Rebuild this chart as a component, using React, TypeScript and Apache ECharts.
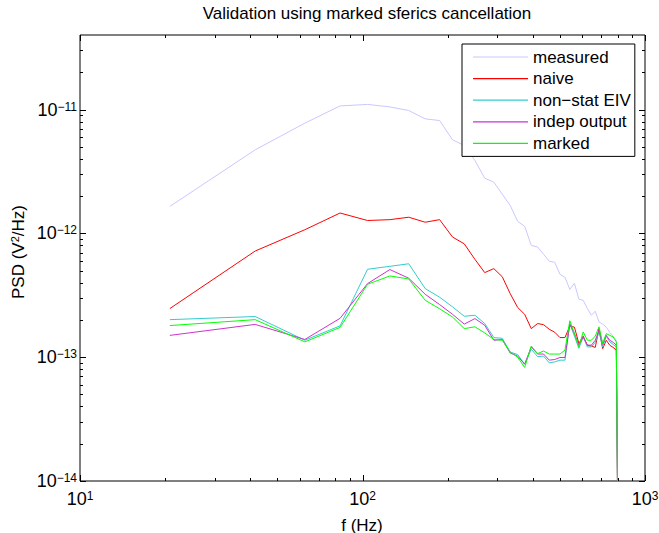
import React, { useEffect, useRef } from 'react';
import * as echarts from 'echarts';

const FONT = '"Liberation Sans", Arial, Helvetica, sans-serif';

const titleText = 'Validation using marked sferics cancellation';
const xName = 'f (Hz)';

const freqs = [20.8, 41.7, 62.5, 83.3, 104.2, 125, 145.8, 166.7, 187.5, 208.3, 229.2, 250, 270.8, 291.7, 312.5, 333.3, 354.2, 375, 395.8, 416.7, 437.5, 458.3, 479.2, 500, 520.8, 541.7, 562.5, 583.3, 604.2, 625, 645.8, 666.7, 687.5, 708.3, 729.2, 750, 770.8, 791.7, 812.5];

const measured = [1.65e-12, 4.73e-12, 7.76e-12, 1.07e-11, 1.10e-11, 1.05e-11, 9.82e-12, 8.41e-12, 8.15e-12, 5.70e-12, 5.13e-12, 3.88e-12, 2.79e-12, 2.59e-12, 2.07e-12, 1.68e-12, 1.25e-12, 1.14e-12, 8.0e-13, 7.76e-13, 6.78e-13, 5.95e-13, 5.84e-13, 4.67e-13, 4.42e-13, 3.53e-13, 3.95e-13, 2.94e-13, 2.88e-13, 2.48e-13, 2.18e-13, 2.35e-13, 1.92e-13, 1.85e-13, 1.75e-13, 1.59e-13, 1.48e-13, 1.37e-13, 1e-16];

const naive = [2.47e-13, 7.20e-13, 1.07e-12, 1.46e-12, 1.27e-12, 1.29e-12, 1.35e-12, 1.23e-12, 1.29e-12, 9.34e-13, 8.23e-13, 6.17e-13, 4.82e-13, 5.19e-13, 4.46e-13, 3.26e-13, 2.52e-13, 2.22e-13, 1.70e-13, 1.87e-13, 1.83e-13, 1.68e-13, 1.59e-13, 1.44e-13, 1.44e-13, 1.78e-13, 1.75e-13, 1.29e-13, 1.48e-13, 1.25e-13, 1.23e-13, 1.20e-13, 1.70e-13, 1.17e-13, 1.37e-13, 1.25e-13, 1.20e-13, 1.14e-13, 1e-16];

const nonStatEIV = [2.01e-13, 2.13e-13, 1.37e-13, 1.79e-13, 5.13e-13, 5.42e-13, 5.68e-13, 3.58e-13, 3.05e-13, 2.55e-13, 2.14e-13, 2.18e-13, 1.87e-13, 1.44e-13, 1.42e-13, 1.10e-13, 1.05e-13, 8.78e-14, 1.16e-13, 1.01e-13, 1.02e-13, 9.0e-14, 9.16e-14, 9.46e-14, 9.46e-14, 1.87e-13, 1.48e-13, 1.18e-13, 1.46e-13, 1.21e-13, 1.21e-13, 1.32e-13, 1.60e-13, 1.21e-13, 1.48e-13, 1.33e-13, 1.27e-13, 1.21e-13, 1e-16];

const indepOutput = [1.50e-13, 1.84e-13, 1.39e-13, 2.06e-13, 3.93e-13, 5.10e-13, 4.34e-13, 3.22e-13, 2.66e-13, 2.22e-13, 1.85e-13, 2.05e-13, 1.81e-13, 1.37e-13, 1.39e-13, 1.08e-13, 1.02e-13, 8.78e-14, 1.21e-13, 1.06e-13, 1.06e-13, 9.46e-14, 9.58e-14, 9.94e-14, 9.94e-14, 1.85e-13, 1.55e-13, 1.25e-13, 1.46e-13, 1.25e-13, 1.25e-13, 1.37e-13, 1.65e-13, 1.27e-13, 1.50e-13, 1.37e-13, 1.32e-13, 1.25e-13, 1e-16];

const marked = [1.80e-13, 2.01e-13, 1.33e-13, 1.74e-13, 3.88e-13, 4.53e-13, 4.28e-13, 2.88e-13, 2.46e-13, 2.11e-13, 1.70e-13, 1.76e-13, 1.57e-13, 1.39e-13, 1.37e-13, 1.10e-13, 1.00e-13, 8.26e-14, 1.23e-13, 1.07e-13, 1.12e-13, 1.06e-13, 1.06e-13, 1.06e-13, 1.14e-13, 1.97e-13, 1.56e-13, 1.21e-13, 1.60e-13, 1.37e-13, 1.37e-13, 1.48e-13, 1.76e-13, 1.29e-13, 1.55e-13, 1.50e-13, 1.46e-13, 1.33e-13, 1e-16];

const seriesNames = ['measured', 'naive', 'non\u2212stat EIV', 'indep output', 'marked'];
const seriesColors = ['#c8c8ff', '#ff0000', '#33cccc', '#cc33cc', '#00ff00'];
const seriesValues = [measured, naive, nonStatEIV, indepOutput, marked];

const X_MIN = 10;
const X_MAX = 1000;
const Y_MIN = 1e-14;
const Y_MAX = 4e-11;

const xMajorTicks = [10, 100, 1000];
const xMinorTicks = [20, 30, 40, 50, 60, 70, 80, 90, 200, 300, 400, 500, 600, 700, 800, 900];
const yMajorTicks = [1e-14, 1e-13, 1e-12, 1e-11];
const yMinorTicks = [2e-14, 3e-14, 4e-14, 5e-14, 6e-14, 7e-14, 8e-14, 9e-14, 2e-13, 3e-13, 4e-13, 5e-13, 6e-13, 7e-13, 8e-13, 9e-13, 2e-12, 3e-12, 4e-12, 5e-12, 6e-12, 7e-12, 8e-12, 9e-12, 2e-11, 3e-11];

const MAJOR_LEN = 6;
const MINOR_LEN = 3;

// y labels: "10" centred on the tick, exponent raised
const yExpRich = {
  b: { fontSize: 18, lineHeight: 18, fontFamily: FONT, color: '#000', padding: [8, 0, 8, 0] },
  s: { fontSize: 12, lineHeight: 12, fontFamily: FONT, color: '#000', verticalAlign: 'top' },
};
// x labels: box starts at the exponent top, "10" below it
const xExpRich = {
  b: { fontSize: 18, lineHeight: 18, fontFamily: FONT, color: '#000', padding: [8, 0, 0, 0], verticalAlign: 'bottom' },
  s: { fontSize: 12, lineHeight: 12, fontFamily: FONT, color: '#000', verticalAlign: 'top' },
};

function expLabel(v: number) {
  const e = Math.log10(v);
  const r = Math.round(e);
  if (Math.abs(e - r) > 1e-6) return '';
  const txt = r < 0 ? '\u2212' + Math.abs(r) : String(r);
  return '{b|10}{s|' + txt + '}';
}

function buildOption() {
  const lineSeries = seriesNames.map((name, i) => ({
    name,
    type: 'line',
    data: freqs.map((f, k) => [f, seriesValues[i][k]]),
    showSymbol: false,
    symbol: 'none',
    clip: true,
    lineStyle: { color: seriesColors[i], width: 1 },
    itemStyle: { color: seriesColors[i] },
    z: 3 + i,
  }));

  const xTickData = [
    ...xMajorTicks.map((v) => [v, Y_MIN, MAJOR_LEN]),
    ...xMinorTicks.map((v) => [v, Y_MIN, MINOR_LEN]),
  ];
  const yTickData = [
    ...yMajorTicks.map((v) => [X_MIN, v, MAJOR_LEN]),
    ...yMinorTicks.map((v) => [X_MIN, v, MINOR_LEN]),
  ];
  const tickStyle = { stroke: '#000', lineWidth: 1 };

  const xTickSeries = {
    type: 'custom',
    silent: true,
    clip: false,
    z: 2,
    data: xTickData,
    encode: { x: 0, y: 1 },
    renderItem: (_p: any, api: any) => {
      const v = api.value(0);
      const len = api.value(2);
      const b = api.coord([v, Y_MIN]);
      const t = api.coord([v, Y_MAX]);
      const x = Math.round(b[0]) + 0.5;
      return {
        type: 'group',
        children: [
          { type: 'line', shape: { x1: x, y1: b[1], x2: x, y2: b[1] - len }, style: tickStyle },
          { type: 'line', shape: { x1: x, y1: t[1], x2: x, y2: t[1] + len }, style: tickStyle },
        ],
      };
    },
  };
  const yTickSeries = {
    type: 'custom',
    silent: true,
    clip: false,
    z: 2,
    data: yTickData,
    encode: { x: 0, y: 1 },
    renderItem: (_p: any, api: any) => {
      const v = api.value(1);
      const len = api.value(2);
      const l = api.coord([X_MIN, v]);
      const r = api.coord([X_MAX, v]);
      const y = Math.round(l[1]) + 0.5;
      return {
        type: 'group',
        children: [
          { type: 'line', shape: { x1: l[0], y1: y, x2: l[0] + len, y2: y }, style: tickStyle },
          { type: 'line', shape: { x1: r[0], y1: y, x2: r[0] - len, y2: y }, style: tickStyle },
        ],
      };
    },
  };

  return {
    animation: false,
    backgroundColor: '#ffffff',
    textStyle: { fontFamily: FONT },
    title: {
      text: titleText,
      left: 362,
      textAlign: 'center',
      top: 0,
      textStyle: { fontSize: 17, fontWeight: 'normal', color: '#000', fontFamily: FONT },
    },
    grid: {
      left: 80,
      right: 14,
      top: 35,
      bottom: 52,
      show: true,
      borderColor: '#000',
      borderWidth: 1,
      backgroundColor: 'transparent',
      containLabel: false,
      outerBoundsMode: 'none',
    },
    legend: {
      data: seriesNames,
      orient: 'vertical',
      left: 462,
      top: 44,
      icon: 'rect',
      itemWidth: 55,
      itemHeight: 1.2,
      itemGap: 1.6,
      padding: [3, 4, 3, 11],
      borderColor: '#000',
      borderWidth: 1,
      backgroundColor: '#fff',
      selectedMode: false,
      textStyle: { fontSize: 17, lineHeight: 20, color: '#000', fontFamily: FONT },
    },
    graphic: [
      {
        type: 'text',
        x: 18,
        y: 252,
        rotation: Math.PI / 2,
        style: {
          text: '{n|PSD (V}{s|2}{n|/Hz)}',
          align: 'center',
          verticalAlign: 'middle',
          rich: {
            n: { fontSize: 17, lineHeight: 17, fontFamily: FONT, fill: '#000', padding: [6, 0, 6, 0] },
            s: { fontSize: 11, lineHeight: 11, fontFamily: FONT, fill: '#000', verticalAlign: 'top' },
          },
        },
      },
      {
        type: 'text',
        x: 362,
        y: 525,
        style: {
          text: xName,
          align: 'center',
          verticalAlign: 'middle',
          fontSize: 17,
          lineHeight: 17,
          fontFamily: FONT,
          fill: '#000',
        },
      },
    ],
    xAxis: {
      type: 'log',
      logBase: 10,
      min: X_MIN,
      max: X_MAX,
      axisLine: { show: false },
      axisTick: { show: false },
      minorTick: { show: false },
      splitLine: { show: false },
      axisLabel: {
        margin: 9,
        formatter: (v: number) => expLabel(v),
        rich: xExpRich,
      },
    },
    yAxis: {
      type: 'log',
      logBase: 10,
      min: Y_MIN,
      max: Y_MAX,
      axisLine: { show: false },
      axisTick: { show: false },
      minorTick: { show: false },
      splitLine: { show: false },
      axisLabel: {
        margin: 3,
        formatter: (v: number) => expLabel(v),
        rich: yExpRich,
      },
    },
    series: [xTickSeries, yTickSeries, ...lineSeries],
  };
}

export default function App() {
  const ref = useRef<HTMLDivElement>(null);
  useEffect(() => {
    if (!ref.current) return;
    const chart = echarts.init(ref.current, null, { renderer: 'svg' });
    chart.setOption(buildOption() as any);
    return () => chart.dispose();
  }, []);
  return (
    <div
      ref={ref}
      style={{ position: 'fixed', left: 0, top: 0, width: 659, height: 533, background: '#fff' }}
    />
  );
}
